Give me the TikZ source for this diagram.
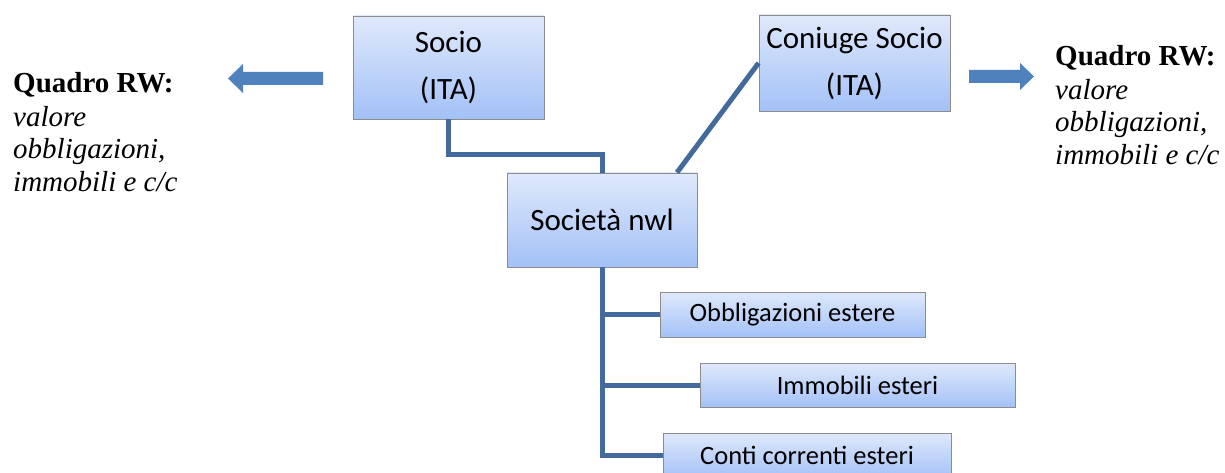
\documentclass[tikz,border=0pt]{standalone}
\usepackage{fontspec}
\setmainfont{Liberation Serif}
\newfontfamily\boxfont{Carlito}
\usetikzlibrary{shadows}
\definecolor{linkblue}{HTML}{44699C}
\definecolor{arrowblue}{HTML}{4F81BD}
\definecolor{boxtop}{HTML}{DFE9FB}
\definecolor{boxbot}{HTML}{A3C1F7}
\definecolor{boxedge}{HTML}{8C8C8C}
\tikzset{
  entity/.style={rectangle, draw=boxedge, line width=0.9pt, top color=boxtop, bottom color=boxbot,
    inner sep=0pt, align=center, text=black,
    drop shadow={shadow xshift=0.8pt, shadow yshift=-1.2pt, fill=black!55, opacity=0.8}},
  bigtext/.style={font=\boxfont\fontsize{31}{47}\selectfont},
  smalltext/.style={font=\boxfont\fontsize{26.5}{30}\selectfont},
  link/.style={draw=linkblue, line width=5pt},
  blockarrow/.style={fill=arrowblue, draw=none},
  sidenote/.style={anchor=base west, align=left, inner sep=0pt, font=\fontsize{29}{33}\selectfont}
}
\begin{document}
\begin{tikzpicture}[x=1pt, y=-1pt]
\useasboundingbox (0,0) rectangle (1225,473);

% boxes
\node[entity, bigtext, minimum width=191pt, minimum height=103pt] (socio) at (448.5,67.5) {Socio\\(ITA)};
\node[entity, bigtext, minimum width=191pt, minimum height=96pt] (coniuge) at (854.5,63) {Coniuge Socio\\(ITA)};
\node[entity, bigtext, minimum width=190pt, minimum height=94pt] (soc) at (602,220) {Società nwl};
\node[entity, smalltext, minimum width=265pt, minimum height=45pt] (obb) at (792.5,314.5) {Obbligazioni estere};
\node[entity, smalltext, minimum width=315pt, minimum height=44pt] (imm) at (857.5,385) {Immobili esteri};
\node[entity, smalltext, minimum width=288pt, minimum height=45pt] (conti) at (807,455.5) {Conti correnti esteri};

% connectors
\draw[link] (socio.south) -- ++(0,35) -| (soc.north);
\draw[link] ([xshift=75pt]soc.north) -- (coniuge.west);
\draw[link] (soc.south) -- (soc.south |- conti.west) -- (conti.west);
\draw[link] (soc.south |- obb.west) -- (obb.west);
\draw[link] (soc.south |- imm.west) -- (imm.west);

% block arrows
\fill[blockarrow] (323,72) -- (243,72) -- (243,64) -- (228,78.5) -- (243,93) -- (243,85) -- (323,85) -- cycle;
\fill[blockarrow] (969,70) -- (1020,70) -- (1020,63) -- (1034,76.5) -- (1020,90) -- (1020,83) -- (969,83) -- cycle;

% side notes (anchored at the baseline of the last line)
\node[sidenote] (leftnote) at (13,192) {\textbf{Quadro RW:}\\\textit{valore}\\\textit{obbligazioni,}\\\textit{immobili e c/c}};
\node[sidenote] (rightnote) at (1055,165) {\textbf{Quadro RW:}\\\textit{valore}\\\textit{obbligazioni,}\\\textit{immobili e c/c}};
\end{tikzpicture}
\end{document}
